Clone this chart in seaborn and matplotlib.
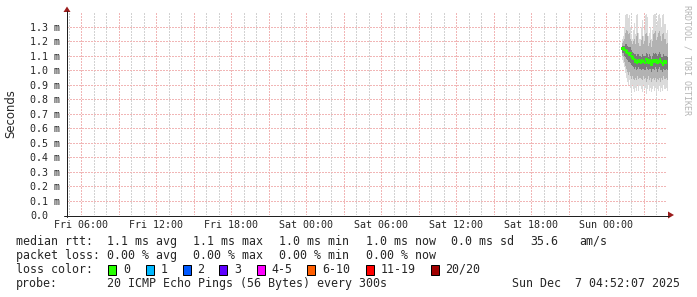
import numpy as np
import pandas as pd
import matplotlib
matplotlib.use("Agg")
import matplotlib.pyplot as plt
from matplotlib.patches import Rectangle, Polygon
from matplotlib.lines import Line2D
import seaborn as sns

# ---------------- data (round-trip times in ms) ----------------
# samples every 5 minutes starting Sun 01:15 (hours counted from Fri 00:00)
start_hour = 49.25
step_minutes = 5

median = [1.15, 1.15, 1.14, 1.14, 1.13, 1.12, 1.12, 1.11, 1.12, 1.10,
          1.09, 1.08, 1.06, 1.07, 1.05, 1.06, 1.07, 1.06, 1.05, 1.07,
          1.06, 1.06, 1.05, 1.08, 1.06, 1.05, 1.07, 1.06, 1.04, 1.06,
          1.07, 1.06, 1.07, 1.07, 1.05, 1.06, 1.08, 1.06, 1.05, 1.04,
          1.06, 1.05, 1.06, 1.05]
ping_max = [1.22, 1.24, 1.30, 1.38, 1.39, 1.39, 1.36, 1.38, 1.30, 1.25,
            1.22, 1.28, 1.33, 1.25, 1.38, 1.39, 1.26, 1.22, 1.30, 1.35,
            1.24, 1.28, 1.38, 1.39, 1.37, 1.24, 1.26, 1.30, 1.22, 1.28,
            1.38, 1.39, 1.39, 1.30, 1.34, 1.38, 1.39, 1.36, 1.30, 1.38,
            1.39, 1.32, 1.26, 1.28]
ping_p90 = [1.19, 1.20, 1.22, 1.26, 1.28, 1.27, 1.25, 1.26, 1.22, 1.20,
            1.18, 1.20, 1.22, 1.18, 1.24, 1.26, 1.19, 1.17, 1.21, 1.24,
            1.18, 1.20, 1.25, 1.26, 1.24, 1.17, 1.19, 1.21, 1.16, 1.20,
            1.25, 1.26, 1.27, 1.21, 1.23, 1.26, 1.27, 1.24, 1.20, 1.25,
            1.26, 1.22, 1.18, 1.19]
ping_p75 = [1.17, 1.17, 1.17, 1.18, 1.18, 1.17, 1.16, 1.16, 1.16, 1.14,
            1.13, 1.12, 1.11, 1.11, 1.10, 1.11, 1.11, 1.10, 1.09, 1.11,
            1.10, 1.10, 1.10, 1.12, 1.11, 1.09, 1.11, 1.10, 1.08, 1.10,
            1.12, 1.11, 1.12, 1.11, 1.10, 1.11, 1.13, 1.11, 1.09, 1.09,
            1.11, 1.10, 1.10, 1.09]
ping_p25 = [1.12, 1.12, 1.10, 1.09, 1.08, 1.07, 1.06, 1.06, 1.05, 1.04,
            1.03, 1.02, 1.01, 1.02, 1.00, 1.01, 1.02, 1.01, 1.00, 1.01,
            1.01, 1.00, 1.00, 1.02, 1.01, 1.00, 1.01, 1.01, 0.99, 1.01,
            1.01, 1.00, 1.02, 1.01, 0.99, 1.01, 1.02, 1.00, 1.00, 0.99,
            1.01, 1.00, 1.01, 1.00]
ping_p10 = [1.10, 1.09, 1.06, 1.03, 1.01, 0.99, 0.97, 0.99, 0.96, 0.94,
            0.96, 0.94, 0.93, 0.95, 0.93, 0.96, 0.94, 0.95, 0.94, 0.93,
            0.96, 0.94, 0.95, 0.92, 0.94, 0.96, 0.93, 0.95, 0.92, 0.94,
            0.95, 0.93, 0.95, 0.92, 0.94, 0.93, 0.95, 0.92, 0.95, 0.93,
            0.96, 0.94, 0.95, 0.93]
ping_min = [1.07, 1.05, 1.02, 0.98, 0.95, 0.92, 0.90, 0.93, 0.88, 0.86,
            0.90, 0.87, 0.85, 0.88, 0.86, 0.90, 0.86, 0.89, 0.87, 0.85,
            0.90, 0.87, 0.88, 0.84, 0.87, 0.90, 0.86, 0.88, 0.85, 0.87,
            0.89, 0.86, 0.88, 0.84, 0.87, 0.86, 0.89, 0.85, 0.88, 0.86,
            0.90, 0.87, 0.88, 0.86]

# axis ticks / labels
y_ticks = [0.0, 0.1, 0.2, 0.3, 0.4, 0.5, 0.6, 0.7, 0.8, 0.9, 1.0, 1.1, 1.2, 1.3]
x_ticks = [6, 12, 18, 24, 30, 36, 42, 48]
x_labels = ["Fri 06:00", "Fri 12:00", "Fri 18:00", "Sat 00:00",
            "Sat 06:00", "Sat 12:00", "Sat 18:00", "Sun 00:00"]

# legend content
rtt_items = ["1.1 ms avg", "1.1 ms max", "1.0 ms min", "1.0 ms now", "0.0 ms sd", "35.6", "am/s"]
loss_items = ["0.00 % avg", "0.00 % max", "0.00 % min", "0.00 % now"]
loss_labels = ["0", "1", "2", "3", "4-5", "6-10", "11-19", "20/20"]
loss_colors = ["#26ff00", "#00b8ff", "#0059ff", "#5e00ff", "#ff00ff", "#ff5e00", "#ff0000", "#a10000"]
probe_text = "20 ICMP Echo Pings (56 Bytes) every 300s"
stamp_text = "Sun Dec  7 04:52:07 2025"

# ---------------- figure ----------------
sns.set_style("white")
plt.rcParams['font.family'] = ['DejaVu Sans Mono', 'DejaVu Sans']

W, H = 697, 297
fig = plt.figure(figsize=(W / 100, H / 100), dpi=100)
fig.patch.set_facecolor("white")

def fx(x):
    return x / W

def fy(y):
    return 1 - y / H

ax_left, ax_right, ax_top, ax_bottom = 67, 667, 12.5, 215
ax = fig.add_axes([fx(ax_left), fy(ax_bottom), (ax_right - ax_left) / W, (ax_bottom - ax_top) / H])
ax.set_facecolor("white")
x0 = 4 + 52 / 60 + 7 / 3600
ax.set_xlim(x0, x0 + 48)
ax.set_ylim(0, 1.4)
for s in ax.spines.values():
    s.set_visible(False)

# grid (dotted)
grid_minor = "#d2d2d2"
grid_major = "#f1b6b6"
dots = (0, (1.4, 1.4))
for h in range(5, 53):
    if x0 < h < x0 + 48:
        ax.axvline(h, color=grid_major if h % 3 == 0 else grid_minor, lw=0.72,
                   ls=dots, antialiased=False, zorder=1)
for v in y_ticks[1:]:
    ax.axhline(v, color=grid_major, lw=0.72, ls=dots, antialiased=False, zorder=1)

# smoke data frame
n = len(median)
t = start_hour + np.arange(n) * step_minutes / 60
df = pd.DataFrame({"t": t, "median": median, "max": ping_max, "p90": ping_p90,
                   "p75": ping_p75, "p25": ping_p25, "p10": ping_p10, "min": ping_min})
tt = np.append(df["t"].values, df["t"].values[-1] + step_minutes / 60)

def ext(col):
    v = df[col].values
    return np.append(v, v[-1])

ax.fill_between(tt, ext("min"), ext("max"), step="post", color="#dadada", lw=0, zorder=2)
ax.fill_between(tt, ext("p10"), ext("p90"), step="post", color="#b2b2b2", lw=0, zorder=3)
ax.fill_between(tt, ext("p25"), ext("p75"), step="post", color="#7a7a7a", lw=0, zorder=4)

# median (loss colour 0 = green)
sns.scatterplot(data=df.assign(tc=df["t"] + step_minutes / 120), x="tc", y="median",
                marker="s", s=3.4, color=loss_colors[0], edgecolor="none", linewidth=0,
                ax=ax, zorder=6, legend=False)
ax.set_xlabel("")
ax.set_ylabel("")

# ticks
ax.set_xticks(x_ticks)
ax.set_xticklabels(x_labels)
ax.set_yticks(y_ticks)
ax.set_yticklabels(["0.0" if v == 0 else f"{v:.1f} m" for v in y_ticks])
ax.tick_params(axis="x", length=0, pad=3.6, labelsize=7.2)
ax.tick_params(axis="y", length=1.5, width=0.72, color=grid_major, direction="out",
               pad=25.2, labelsize=7.2)
for lab in ax.get_yticklabels():
    lab.set_horizontalalignment("left")

# axis lines + arrows
axis_col = "#202020"
arrow_col = "#9b1c1c"
fig.add_artist(Line2D([fx(66.5), fx(66.5)], [fy(ax_bottom + 2), fy(11)],
                      color=axis_col, lw=0.72))
fig.add_artist(Line2D([fx(ax_left - 3), fx(669)], [fy(215.5), fy(215.5)],
                      color=axis_col, lw=0.72))
fig.add_artist(Polygon([(fx(63.5), fy(12)), (fx(70.5), fy(12)), (fx(67), fy(6.5))],
                       closed=True, color=arrow_col, lw=0))
fig.add_artist(Polygon([(fx(668), fy(211.5)), (fx(668), fy(218.5)), (fx(674), fy(215))],
                       closed=True, color=arrow_col, lw=0))

# y-axis title
fig.text(fx(10.5), fy(114), "Seconds", rotation=90, ha="center", va="center",
         fontsize=8.4, family=["DejaVu Sans"])

# watermark
fig.text(fx(687.5), fy(60), "RRDTOOL / TOBI OETIKER", rotation=270, ha="center", va="center",
         fontsize=6.0, color="#b4b4b4")

# legend
fs = 8.4
rows_y = [241.3, 255.5, 269.5, 283.8]
fig.text(fx(16), fy(rows_y[0]), "median rtt:", fontsize=fs, va="center")
for s, x in zip(rtt_items, [107.3, 193.3, 278.7, 365.7, 451, 530, 579.3]):
    fig.text(fx(x), fy(rows_y[0]), s, fontsize=fs, va="center")
fig.text(fx(16), fy(rows_y[1]), "packet loss:", fontsize=fs, va="center")
for s, x in zip(loss_items, [107.3, 193.3, 278.7, 365.7]):
    fig.text(fx(x), fy(rows_y[1]), s, fontsize=fs, va="center")
fig.text(fx(16), fy(rows_y[2]), "loss color:", fontsize=fs, va="center")
box_x = [108.3, 145.7, 182.7, 219.3, 256.7, 307.3, 365.7, 431]
for lab, col, bx in zip(loss_labels, loss_colors, box_x):
    fig.add_artist(Rectangle((fx(bx), fy(274.5)), 8 / W, 10 / H, transform=fig.transFigure,
                             facecolor=col, edgecolor="black", lw=0.72))
    fig.text(fx(bx + 14.5), fy(rows_y[2]), lab, fontsize=fs, va="center")
fig.text(fx(16), fy(rows_y[3]), "probe:", fontsize=fs, va="center")
fig.text(fx(107.3), fy(rows_y[3]), probe_text, fontsize=fs, va="center")
fig.text(fx(680.5), fy(rows_y[3]), stamp_text, fontsize=fs, va="center", ha="right")

fig.savefig("out.png", dpi=100, facecolor="white")
